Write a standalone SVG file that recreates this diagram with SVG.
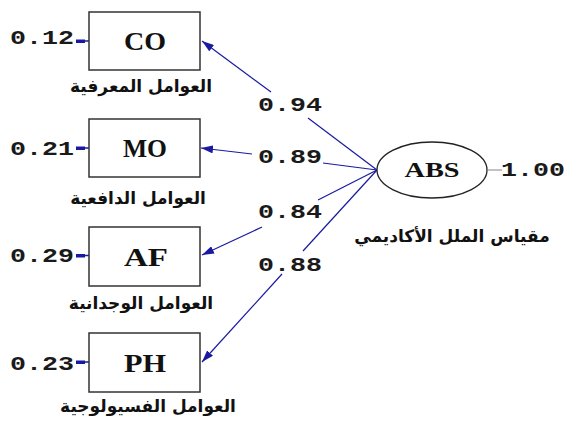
<svg xmlns="http://www.w3.org/2000/svg" width="564" height="422" viewBox="0 0 564 422">
<defs>
<style>
.box{fill:#fff;stroke:#333;stroke-width:1.5}
.lbl{font-family:"Liberation Serif","Times New Roman",serif;font-weight:bold;font-size:25px;fill:#111;text-anchor:middle}
.num{font-family:"Liberation Mono","Courier New",monospace;font-weight:bold;font-size:20px;fill:#1a1a1a}
.ar{font-family:"DejaVu Sans",sans-serif;font-weight:bold;font-size:17px;fill:#111;text-anchor:middle}
.path{stroke:#1a1aa0;stroke-width:1.2;fill:none}
.err{stroke:#1a1aa0;stroke-width:1.5;fill:none}
</style>
<marker id="ah" viewBox="0 0 12 8" refX="12" refY="4" markerWidth="12" markerHeight="8" markerUnits="userSpaceOnUse" orient="auto">
<path d="M0,0 L12,4 L0,8 Z" fill="#1a1aa0"/>
</marker>
</defs>
<rect width="564" height="422" fill="#fff"/>
<g id="connectors">
<path class="path" d="M377,170 L308,118"/>
<path class="path" d="M271,92 L202,41" marker-end="url(#ah)"/>
<path class="path" d="M377,170 L323,163"/>
<path class="path" d="M252,154 L201,148" marker-end="url(#ah)"/>
<path class="path" d="M377,170 L318,200"/>
<path class="path" d="M262,227 L202,255" marker-end="url(#ah)"/>
<path class="path" d="M377,170 L303,251"/>
<path class="path" d="M282,274 L202,362" marker-end="url(#ah)"/>
<g fill="#1a1aa0">
<rect x="76" y="39.5" width="9" height="3.5"/>
<rect x="76" y="146.5" width="9" height="3.5"/>
<rect x="76" y="254" width="9" height="3.5"/>
<rect x="76" y="360.5" width="9" height="3.5"/>
</g>
<path class="err" d="M85,41 H89 M85,148 H89 M85,255.5 H89 M85,362 H89"/>
<path d="M488,170 H502" stroke="#999" stroke-width="1.2"/>
</g>
<g id="CO">
<rect class="box" x="89" y="12" width="111" height="58"/>
<text class="lbl" x="145" y="50" textLength="42" lengthAdjust="spacingAndGlyphs">CO</text>
<text class="num" x="10" y="44" textLength="64" lengthAdjust="spacingAndGlyphs">0.12</text>
<text class="ar" x="141" y="92">العوامل المعرفية</text>
</g>
<g id="MO">
<rect class="box" x="89" y="119" width="111" height="58"/>
<text class="lbl" x="145" y="157" textLength="44" lengthAdjust="spacingAndGlyphs">MO</text>
<text class="num" x="10" y="155" textLength="64" lengthAdjust="spacingAndGlyphs">0.21</text>
<text class="ar" x="138" y="204">العوامل الدافعية</text>
</g>
<g id="AF">
<rect class="box" x="89" y="227" width="111" height="59"/>
<text class="lbl" x="146" y="266" textLength="44" lengthAdjust="spacingAndGlyphs">AF</text>
<text class="num" x="10" y="262" textLength="64" lengthAdjust="spacingAndGlyphs">0.29</text>
<text class="ar" x="141" y="309">العوامل الوجدانية</text>
</g>
<g id="PH">
<rect class="box" x="89" y="333" width="111" height="59"/>
<text class="lbl" x="145" y="372" textLength="42" lengthAdjust="spacingAndGlyphs">PH</text>
<text class="num" x="10" y="370" textLength="64" lengthAdjust="spacingAndGlyphs">0.23</text>
<text class="ar" x="148" y="412">العوامل الفسيولوجية</text>
</g>
<g id="ABS">
<ellipse cx="432" cy="170" rx="55" ry="28" fill="#fff" stroke="#222" stroke-width="1.3"/>
<text class="lbl" x="432" y="177" style="font-size:22px" textLength="55" lengthAdjust="spacingAndGlyphs">ABS</text>
<text class="num" x="501" y="176" textLength="64" lengthAdjust="spacingAndGlyphs">1.00</text>
<text class="ar" x="452" y="242">مقياس الملل الأكاديمي</text>
</g>
<g id="loadings">
<text class="num" x="258" y="111" textLength="64" lengthAdjust="spacingAndGlyphs">0.94</text>
<text class="num" x="258" y="163" textLength="64" lengthAdjust="spacingAndGlyphs">0.89</text>
<text class="num" x="258" y="218" textLength="64" lengthAdjust="spacingAndGlyphs">0.84</text>
<text class="num" x="258" y="271" textLength="64" lengthAdjust="spacingAndGlyphs">0.88</text>
</g>
</svg>
